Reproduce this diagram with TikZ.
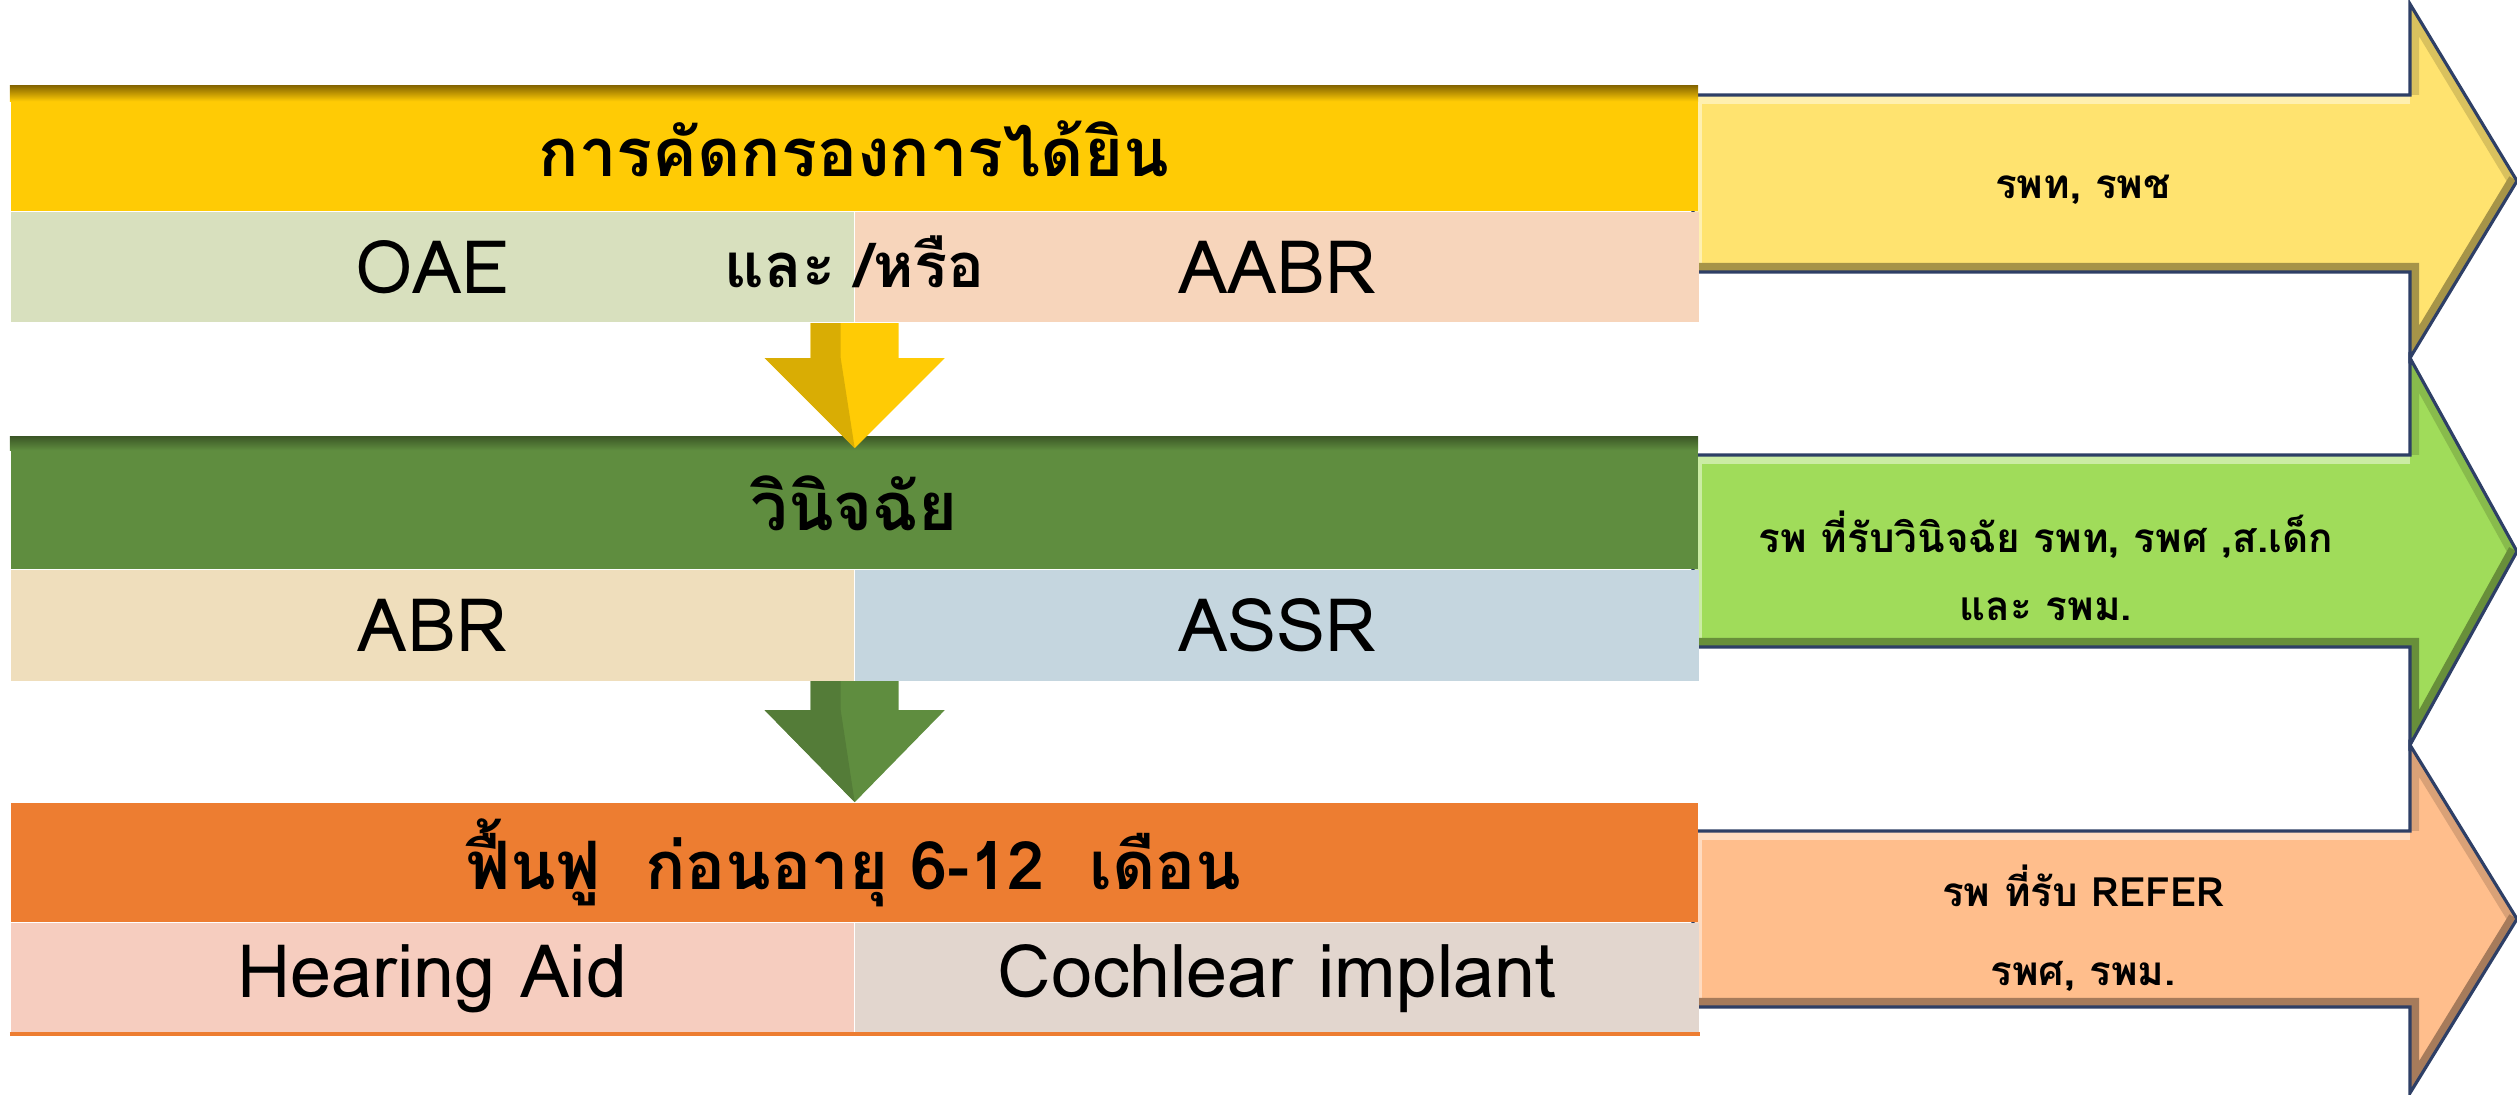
\documentclass[tikz,border=0pt]{standalone}
\usepackage{fontspec}
\setmainfont{Loma}[Script=Thai]
\usetikzlibrary{positioning,calc}

\definecolor{hdryellow}{HTML}{FFCB05}
\definecolor{hdrgold}{HTML}{846400}
\definecolor{subgreen}{HTML}{D8E0BE}
\definecolor{subpeach}{HTML}{F7D5BB}
\definecolor{hdrgreen}{HTML}{5F8D3F}
\definecolor{hdrmoss}{HTML}{3B5626}
\definecolor{cellbeige}{HTML}{EFDEBC}
\definecolor{cellblue}{HTML}{C5D6DF}
\definecolor{hdrorange}{HTML}{ED7D31}
\definecolor{cellpink}{HTML}{F6CDBF}
\definecolor{cellgrey}{HTML}{E2D6CE}
\definecolor{arryellow}{HTML}{FFE36F}
\definecolor{arrgreen}{HTML}{A0DC5A}
\definecolor{arrorange}{HTML}{FFBE8C}
\definecolor{navy}{HTML}{2E3F66}

\tikzset{
  header/.style={rectangle, inner sep=0pt, minimum width=16.86cm,
    font=\fontsize{19}{22}\selectfont\bfseries},
  cell/.style={rectangle, inner sep=0pt, minimum width=8.43cm, minimum height=1.10cm,
    font=\fontsize{21}{24}\selectfont},
  note/.style={align=center, inner sep=0pt, font=\fontsize{11.5}{19}\selectfont\bfseries},
  rarrow/.style={draw=navy, line width=0.9pt, line join=miter},
}

\begin{document}
\begin{tikzpicture}[x=0.01cm, y=-0.01cm]
    \useasboundingbox (0,0) rectangle (2517,1095);

    % Side arrows
    \foreach \yt/\yb/\ht/\hb/\col in {95/272/4/358/arryellow, 455/647/358/745/arrgreen, 831/1007/745/1093/arrorange}{
      \fill[fill=\col] (1693,\yt) -- (2410,\yt) -- (2410,\ht) -- (2517,{(\ht+\hb)/2}) -- (2410,\hb) -- (2410,\yb) -- (1693,\yb) -- cycle;
      \begin{scope}
        \clip (1693,\yt) -- (2410,\yt) -- (2410,\ht) -- (2517,{(\ht+\hb)/2}) -- (2410,\hb) -- (2410,\yb) -- (1693,\yb) -- cycle;
        \draw[draw=\col!55!white, line width=0.18cm] (1693,\yb) -- (1693,\yt) -- (2410,\yt);
        \draw[draw=\col!85!black, line width=0.18cm] (2410,\yt) -- (2410,\ht) -- (2517,{(\ht+\hb)/2});
        \draw[draw=\col!65!black, line width=0.18cm] (2517,{(\ht+\hb)/2}) -- (2410,\hb) -- (2410,\yb) -- (1693,\yb);
      \end{scope}
      \draw[rarrow] (1693,\yt) -- (2410,\yt) -- (2410,\ht) -- (2517,{(\ht+\hb)/2}) -- (2410,\hb) -- (2410,\yb) -- (1693,\yb) -- cycle;
    }
    \node[note]                    (firstnote) at (2083,190) {รพท, รพช};
    \node[note, font=\fontsize{11.5}{19.5}\selectfont\bfseries]
                                   (diagnote) at (2046,566) {รพ ที่รับวินิจฉัย รพท, รพศ ,ส.เด็ก\\และ รพม.};
    \node[note, font=\fontsize{11.5}{22.5}\selectfont\bfseries]
                                   (refernote) at (2083,928) {รพ ที่รับ REFER\\รพศ, รพม.};

    % Define nodes
    \node[header, fill=hdryellow, minimum height=1.25cm] (screen) at (854,148.5) {การคัดกรองการได้ยิน};
    \node[cell, fill=subgreen, below right=0pt and 0pt of screen.south west] (oae) {OAE};
    \node[cell, fill=subpeach, right=0pt of oae]                             (aabr) {AABR};
    \node[inner sep=0pt, font=\fontsize{17.5}{20}\selectfont\bfseries] (andor) at ($(oae.east)+(0,-6)$) {และ /หรือ};

    \node[header, fill=hdrgreen, minimum height=1.32cm] (diag) at (854,503) {วินิจฉัย};
    \node[cell, fill=cellbeige, below right=0pt and 0pt of diag.south west] (abr) {ABR};
    \node[cell, fill=cellblue, right=0pt of abr]                            (assr) {ASSR};

    \node[header, fill=hdrorange, minimum height=1.19cm] (rehab) at (854,862.5) {ฟื้นฟู\ \ ก่อนอายุ 6-12\ \ เดือน};
    \node[cell, fill=cellpink, below right=0pt and 0pt of rehab.south west] (aid) {Hearing Aid};
    \node[cell, fill=cellgrey, right=0pt of aid]                            (implant) {Cochlear implant};

    % Bevels
    \shade[top color=hdrgold, bottom color=hdryellow] (screen.north west) rectangle ($(screen.north east)+(0,16)$);
    \shade[top color=hdrmoss, bottom color=hdrgreen] (diag.north west) rectangle ($(diag.north east)+(0,14)$);
    \draw[hdrorange, line width=1.2pt] (aid.south west) -- (implant.south east);

    % Connect the nodes
    \fill[hdryellow] ($(oae.south east)+(-44,0)$) -- ++(0,35) -- ++(-46,0) -- ($(oae.south east)+(0,125)$)
      -- ($(oae.south east)+(90,35)$) -- ++(-46,0) -- ++(0,-35) -- cycle;
    \fill[hdryellow!85!black] ($(oae.south east)+(-44,0)$) -- ++(0,35) -- ++(-46,0) -- ($(oae.south east)+(0,125)$)
      -- ($(oae.south east)+(-14,35)$) -- ++(0,-35) -- cycle;
    \fill[hdrgreen] ($(abr.south east)+(-44,0)$) -- ++(0,29) -- ++(-46,0) -- ($(abr.south east)+(0,121)$)
      -- ($(abr.south east)+(90,29)$) -- ++(-46,0) -- ++(0,-29) -- cycle;
    \fill[hdrgreen!70!hdrmoss] ($(abr.south east)+(-44,0)$) -- ++(0,29) -- ++(-46,0) -- ($(abr.south east)+(0,121)$)
      -- ($(abr.south east)+(-14,29)$) -- ++(0,-29) -- cycle;

\end{tikzpicture}
\end{document}
